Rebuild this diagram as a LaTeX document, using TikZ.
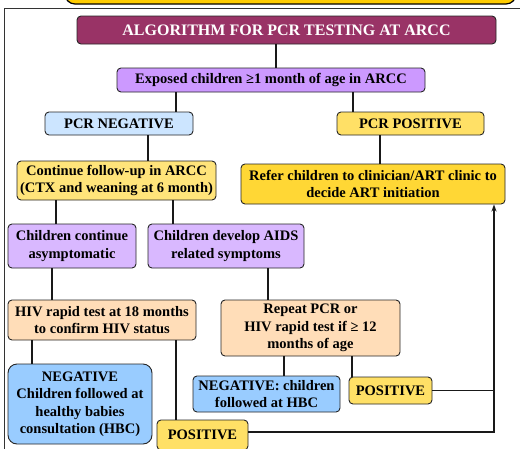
\documentclass[tikz,border=0pt]{standalone}
\usepackage{fontspec}
\setmainfont{Liberation Serif}
\usetikzlibrary{arrows.meta}
\definecolor{cTitle}{HTML}{993366}
\definecolor{cExp}{HTML}{CC99FF}
\definecolor{cLav}{HTML}{D9B8FF}
\definecolor{cPaleBlue}{HTML}{CCE5FF}
\definecolor{cBlue}{HTML}{99CCFF}
\definecolor{cYel}{HTML}{FFE066}
\definecolor{cYelB}{HTML}{FFE47A}
\definecolor{cYelC}{HTML}{FFD735}
\definecolor{cPeach}{HTML}{FFDDB8}
\definecolor{cTop}{HTML}{FFCC00}
\tikzset{
  box/.style={draw=black!85, line width=0.9pt, rounded corners=4pt, inner sep=0pt,
    align=center, font=\bfseries\fontsize{14.5}{17.5}\selectfont},
  conn/.style={draw=black!90, line width=1.3pt},
}
\begin{document}
\begin{tikzpicture}[x=1pt,y=-1pt]
\useasboundingbox (0,0) rectangle (520,448);
\begin{scope}
\clip (0,0) rectangle (520,448);
\fill[white] (0,0) rectangle (520,448);
\draw[fill=cTop, draw=black, line width=1.2pt, rounded corners=10pt] (65,-30) rectangle (516,4);
\draw[black!80, line width=1pt] (4,8) rectangle (540,470);
% nodes
\node[box, fill=cTitle, text=white, font=\bfseries\fontsize{16}{19}\selectfont, minimum width=419pt, minimum height=28pt] (title) at (286.5,30) {ALGORITHM FOR PCR TESTING AT ARCC};
\node[box, fill=cExp, minimum width=308pt, minimum height=24pt] (exposed) at (271,80) {Exposed children ≥1 month of age in ARCC};
\node[box, fill=cPaleBlue, minimum width=148pt, minimum height=23pt] (pcrneg) at (119,123.5) {PCR NEGATIVE};
\node[box, fill=cYel, minimum width=147pt, minimum height=23pt] (pcrpos) at (410.5,123.5) {PCR POSITIVE};
\node[box, fill=cYelB, minimum width=199pt, minimum height=39pt] (cont) at (116.5,180.5) {Continue follow-up in ARCC\\(CTX and weaning at 6 month)};
\node[box, fill=cYelC, minimum width=264pt, minimum height=40pt] (refer) at (373,184) {Refer children to clinician/ART clinic to\\decide ART initiation};
\node[box, fill=cLav, minimum width=128pt, minimum height=44pt] (asym) at (72,246) {Children continue\\asymptomatic};
\node[box, fill=cLav, minimum width=156pt, minimum height=44pt] (aids) at (226,246) {Children develop AIDS\\related symptoms};
\node[box, fill=cPeach, minimum width=188pt, minimum height=40pt] (hiv) at (102,320) {HIV rapid test at 18 months\\to confirm HIV status};
\node[box, fill=cPeach, minimum width=179pt, minimum height=56pt] (repeat) at (310.5,328) {Repeat PCR or\\HIV rapid test if ≥ 12\\months of age};
\node[box, fill=cBlue, rounded corners=9pt, minimum width=144pt, minimum height=80pt] (negbig) at (80,404) {NEGATIVE\\Children followed at\\healthy babies\\consultation (HBC)};
\node[box, fill=cYel, minimum width=91pt, minimum height=30pt] (posbot) at (202.5,435) {POSITIVE};
\node[box, fill=cBlue, minimum width=147pt, minimum height=36pt] (negch) at (266.5,394) {NEGATIVE: children\\followed at HBC};
\node[box, fill=cYel, minimum width=83pt, minimum height=27pt] (posr) at (390.5,390.5) {POSITIVE};
% connector x positions
\coordinate (xa) at (276,0);
\coordinate (xb) at (176,0);
\coordinate (xc) at (353,0);
\coordinate (xd) at (148,0);
\coordinate (xe) at (380,0);
\coordinate (xf) at (56,0);
\coordinate (xg) at (173,0);
\coordinate (xh) at (52,0);
\coordinate (xi) at (268,0);
\coordinate (xj) at (32,0);
\coordinate (xk) at (176,0);
\coordinate (xl) at (284,0);
\coordinate (xm) at (352,0);
\coordinate (xr) at (494,0);
\coordinate (yb) at (0,432);
\draw[conn] (title.south -| xa) -- (exposed.north -| xa);
\draw[conn] (exposed.south -| xb) -- (pcrneg.north -| xb);
\draw[conn] (exposed.south -| xc) -- (pcrpos.north -| xc);
\draw[conn] (pcrneg.south -| xd) -- (cont.north -| xd);
\draw[conn] (pcrpos.south -| xe) -- (refer.north -| xe);
\draw[conn] (cont.south -| xf) -- (asym.north -| xf);
\draw[conn] (cont.south -| xg) -- (aids.north -| xg);
\draw[conn] (asym.south -| xh) -- (hiv.north -| xh);
\draw[conn] (aids.south -| xi) -- (repeat.north -| xi);
\draw[conn] (hiv.south -| xj) -- (negbig.north -| xj);
\draw[conn] (hiv.south -| xk) -- (posbot.north -| xk);
\draw[conn] (repeat.south -| xl) -- (negch.north -| xl);
\draw[conn] (repeat.south -| xm) -- (posr.north -| xm);
\draw[conn] (posr.east) -- (posr.east -| xr);
\draw[conn, -{Stealth[length=7pt,width=5pt]}] (posbot.east |- yb) -| (refer.south -| xr);
\end{scope}
\end{tikzpicture}
\end{document}
